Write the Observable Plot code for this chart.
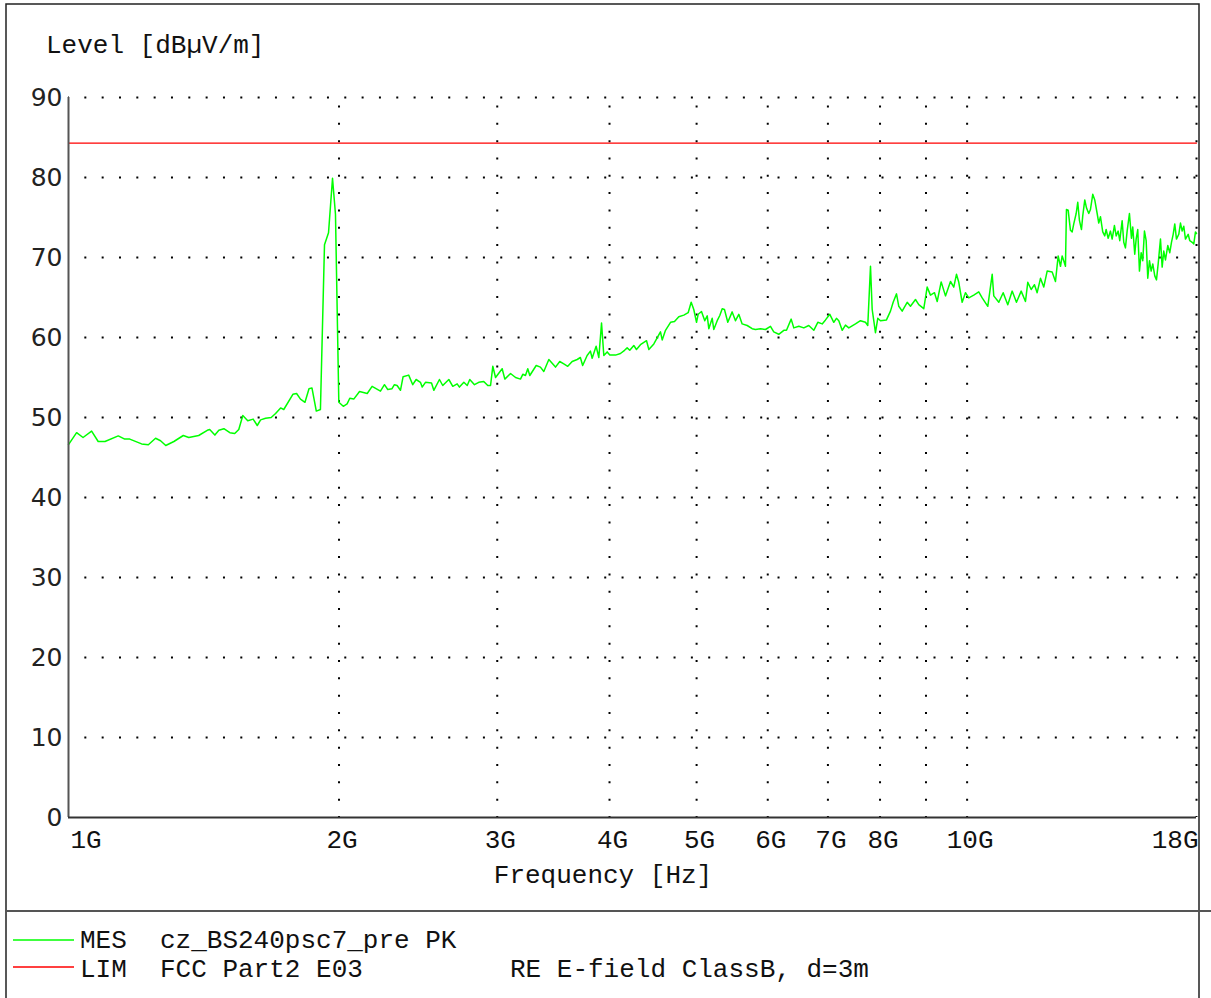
<!DOCTYPE html>
<html><head><meta charset="utf-8">
<script src="https://cdn.jsdelivr.net/npm/d3@7"></script>
<script src="https://cdn.jsdelivr.net/npm/@observablehq/plot@0.6"></script>
<style>html,body{margin:0;padding:0;background:#fff;overflow:hidden}</style>
</head><body><div id="chart"></div>
<script>
// Measured trace (MES cz_BS240psc7_pre PK): frequency in MHz, level in dBµV/m
// 1 GHz – 12.5 GHz
const freqLowMHz = [1000,1021,1038,1061,1079,1098,1136,1155,1170,1206,1227,1250,1266,1283,1310,1342,1361,1396,1427,1436,1455,1470,1489,1512,1531,1547,1563,1583,1605,1622,1636,1657,1681,1700,1722,1736,1777,1794,1812,1833,1852,1866,1887,1907,1927,1947,1967,1982,1999,2022,2042,2056,2077,2108,2150,2177,2224,2247,2266,2291,2305,2321,2341,2357,2391,2416,2437,2464,2475,2496,2535,2550,2587,2609,2650,2677,2707,2723,2754,2778,2796,2830,2861,2898,2928,2949,2966,2987,3038,3059,3104,3144,3184,3203,3225,3244,3261,3315,3351,3380,3424,3483,3521,3558,3594,3635,3682,3712,3734,3777,3809,3826,3865,3892,3919,3942,3976,4003,4062,4114,4157,4185,4213,4257,4286,4330,4398,4424,4481,4527,4558,4578,4617,4677,4725,4777,4839,4893,4931,4964,4999,5020,5063,5106,5138,5159,5204,5225,5271,5306,5339,5370,5416,5477,5524,5571,5619,5692,5765,5814,5889,5965,6042,6093,6172,6252,6295,6371,6414,6497,6581,6665,6751,6821,6898,6957,7034,7106,7155,7198,7261,7322,7385,7512,7609,7707,7753,7807,7841,7873,7907,7954,8009,8133,8217,8274,8345,8394,8467,8577,8649,8761,8835,8949,9027,9104,9198,9262,9357,9461,9583,9664,9731,9789,9874,9958,10043,10172,10303,10394,10544,10664,10707,10846,10968,11098,11224,11348,11486,11613,11682,11784,11884,11966,12068,12170,12277,12435];
const levelLowDb = [46.6,48.1,47.5,48.3,47.0,47.0,47.7,47.3,47.3,46.7,46.6,47.4,47.1,46.5,47.0,47.75,47.5,47.75,48.4,48.5,47.8,48.4,48.6,48.1,48.0,48.5,50.25,49.6,49.8,49.0,49.7,49.9,50.0,50.5,51.2,51.0,52.9,53.0,52.3,51.9,53.6,53.7,50.8,51.0,71.6,73.1,79.9,75.4,51.9,51.4,51.7,52.4,52.3,53.25,53.0,53.9,53.3,54.1,53.5,53.6,54.1,54.0,53.4,55.1,55.3,54.1,54.75,54.4,53.8,54.4,54.3,53.4,54.75,54.0,54.75,53.9,54.2,53.8,54.4,54.0,54.75,54.1,54.4,54.5,54.0,54.0,56.4,55.0,56.1,54.8,55.5,55.0,54.8,55.4,55.25,56.1,55.25,56.5,56.3,55.75,57.25,56.3,57.0,56.7,56.4,57.0,57.25,57.5,56.5,57.75,58.3,57.4,58.9,57.5,61.8,57.75,58.2,57.8,57.8,58.0,58.4,58.7,58.4,59.0,58.5,59.1,59.6,58.5,59.2,60.1,60.7,59.7,60.9,61.9,62.0,62.6,62.8,63.1,64.4,63.5,61.9,62.9,63.25,62.1,62.7,61.1,62.4,61.0,62.1,62.75,63.6,63.5,61.9,63.2,62.1,62.9,61.7,61.5,61.1,61.0,61.1,61.0,61.4,60.7,60.4,60.9,60.9,62.3,61.2,61.4,61.2,61.5,60.9,61.9,61.7,62.2,62.9,61.9,62.4,62.1,60.9,61.55,61.2,61.7,62.1,61.9,61.5,68.9,63.5,62.1,60.6,62.4,62.1,62.2,63.3,64.4,65.45,63.9,63.3,64.4,63.9,64.75,64.1,63.6,66.3,65.3,65.6,64.5,66.95,65.2,67.0,66.3,67.9,66.9,64.4,65.6,64.95,65.3,65.7,64.95,63.9,67.9,65.2,64.4,65.6,64.1,65.8,64.4,65.8,64.5,66.9,66.0,66.6,65.6,67.4,66.3,68.3,68.2];
// 12.5 GHz – 18 GHz
const freqHighMHz = [12541,12628,12703,12758,12810,12866,12899,12956,13032,13089,13143,13224,13278,13336,13405,13449,13519,13578,13658,13717,13798,13869,13955,14012,14073,14156,14229,14280,14354,14438,14501,14587,14651,14726,14787,14878,14939,15003,15069,15158,15236,15287,15366,15421,15484,15552,15620,15684,15753,15822,15887,15956,16026,16092,16175,16246,16316,16413,16484,16552,16624,16723,16809,16882,16956,17025,17100,17201,17276,17351,17423,17499,17620,17693,17802,17875,17953,18000];
const levelHighDb = [67.0,70.2,68.9,70.2,69.6,68.9,76.0,75.9,73.4,73.2,74.2,75.5,76.9,74.6,73.5,75.2,77.2,76.2,75.5,76.0,77.9,77.2,75.5,74.3,75.1,73.2,72.7,73.5,72.4,73.3,72.3,74.0,72.7,73.3,72.1,74.6,71.9,71.2,73.3,75.5,72.4,73.8,70.4,72.3,73.5,68.3,70.6,69.6,73.3,72.1,67.4,69.6,68.3,69.2,67.7,67.2,69.2,72.3,68.8,70.8,69.7,71.5,70.6,71.9,72.9,74.2,72.3,72.9,74.3,73.3,73.9,72.3,72.9,72.1,71.9,71.7,73.2,73.0];

// Limit line (LIM FCC Part2 E03)
const limFreqMHz = [1000, 18000];
const limLevelDb = [84.3, 84.3];

// Axes
const yTicks = [0, 10, 20, 30, 40, 50, 60, 70, 80, 90];
const xTicks = [1000, 2000, 3000, 4000, 5000, 6000, 7000, 8000, 10000, 18000];
const xTickLabels = ["1G", "2G", "3G", "4G", "5G", "6G", "7G", "8G", "10G", "18G"];
const xGrid = [2000, 3000, 4000, 5000, 6000, 7000, 8000, 9000, 10000, 18000];

const freqMHz = freqLowMHz.concat(freqHighMHz);
const levelDb = levelLowDb.concat(levelHighDb);
const mes = freqMHz.map((f, i) => ({f, v: levelDb[i]}));
const lim = limFreqMHz.map((f, i) => ({f, v: limLevelDb[i]}));

const MONO = "'Liberation Mono', 'Courier New', monospace";
const SANS = "'DejaVu Sans', sans-serif";
const idx = d3.range(xTicks.length);

const plot = Plot.plot({
  width: 1211, height: 998,
  marginLeft: 68, marginRight: 15, marginTop: 97, marginBottom: 181,
  x: {type: "log", domain: [1000, 18000], axis: null},
  y: {domain: [0, 90], axis: null},
  style: {background: "#fff", overflow: "visible"},
  marks: [
    Plot.ruleY(yTicks.filter(d => d > 0), {y: d => d, x1: 1000, x2: 18000, stroke: "#000", strokeWidth: 2, strokeDasharray: "2,15.33", strokeDashoffset: 1}),
    Plot.ruleX(xGrid, {x: d => d, y1: 0, y2: 90, stroke: "#000", strokeWidth: 2, strokeDasharray: "2,15.33", strokeDashoffset: 1}),
    Plot.line(lim, {x: "f", y: "v", stroke: "#ff0000", strokeWidth: 1.2}),
    Plot.line(mes, {x: "f", y: "v", stroke: "#00ff00", strokeWidth: 1.5}),
    Plot.ruleX([1000], {x: d => d, y1: 0, y2: 90, stroke: "#555", strokeWidth: 2}),
    Plot.ruleY([0], {y: d => d, x1: 1000, x2: 18000, stroke: "#333", strokeWidth: 2}),
    Plot.text(yTicks, {x: 1000, y: d => d, text: d => String(d), textAnchor: "end", dx: -6, fontSize: 25, fontFamily: SANS, fill: "#222"}),
    Plot.text(idx.filter(i => i === 0), {x: i => xTicks[i], y: 0, text: i => xTickLabels[i], textAnchor: "start", dx: 2, dy: 22, fontSize: 26, fontFamily: MONO, fill: "#111"}),
    Plot.text(idx.filter(i => i > 0 && i < xTicks.length - 1), {x: i => xTicks[i], y: 0, text: i => xTickLabels[i], textAnchor: "middle", dx: 3, dy: 22, fontSize: 26, fontFamily: MONO, fill: "#111"}),
    Plot.text(idx.filter(i => i === xTicks.length - 1), {x: i => xTicks[i], y: 0, text: i => xTickLabels[i], textAnchor: "end", dx: 2, dy: 22, fontSize: 26, fontFamily: MONO, fill: "#111"})
  ]
});

const svg = d3.select(plot);
// outer frame and divider
svg.append("path").attr("d", "M6,998V4H1199V998").attr("fill", "none").attr("stroke", "#222").attr("stroke-width", 1.5);
svg.append("line").attr("x1", 6).attr("x2", 1211).attr("y1", 911).attr("y2", 911).attr("stroke", "#555").attr("stroke-width", 2);

function txt(x, y, s, anchor) {
  svg.append("text").attr("x", x).attr("y", y).attr("text-anchor", anchor || "start")
    .attr("font-family", MONO).attr("font-size", 26).attr("fill", "#111").text(s);
}
txt(46, 53, "Level [dBµV/m]");
txt(603, 883, "Frequency [Hz]", "middle");

// legend
svg.append("line").attr("x1", 13).attr("x2", 74).attr("y1", 940).attr("y2", 940).attr("stroke", "#00ff00").attr("stroke-width", 1.5);
svg.append("line").attr("x1", 13).attr("x2", 74).attr("y1", 967).attr("y2", 967).attr("stroke", "#ff0000").attr("stroke-width", 1.5);
txt(80, 948, "MES");
txt(160, 948, "cz_BS240psc7_pre PK");
txt(80, 977, "LIM");
txt(160, 977, "FCC Part2 E03");
txt(510, 977, "RE E-field ClassB, d=3m");

document.getElementById("chart").appendChild(plot);
</script>
</body></html>
